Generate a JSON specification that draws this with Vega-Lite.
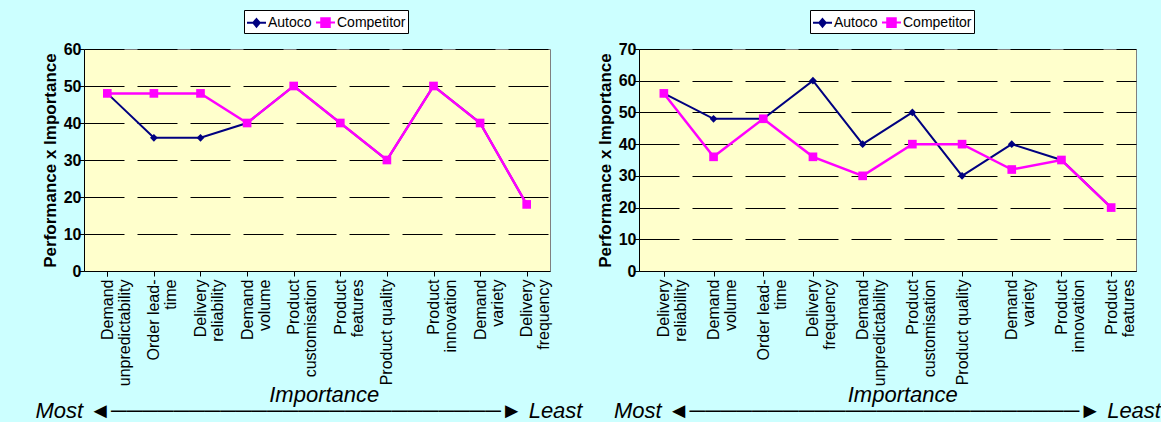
{
  "$schema": "https://vega.github.io/schema/vega-lite/v6.json",
  "background": "#CCFFFF",
  "padding": {"left": 34, "top": 9, "right": 0, "bottom": 0},
  "bounds": "flush",
  "spacing": 89,
  "resolve": {"scale": {"color": "independent"}, "legend": {"color": "independent"}},
  "config": {
    "font": "Liberation Sans",
    "view": {"fill": "#FFFFCC", "stroke": "#808080", "strokeWidth": 1},
    "axis": {"labelFont": "Liberation Sans", "titleFont": "Liberation Sans", "labelColor": "black", "titleColor": "black", "domainColor": "black", "tickColor": "black", "tickSize": 5, "domainWidth": 1, "tickWidth": 1},
    "axisY": {"labelFontSize": 16, "labelFontWeight": "bold", "labelPadding": -2, "titleFontSize": 17, "titleFontWeight": "bold", "titlePadding": 4, "grid": true, "gridColor": "black", "gridDash": [40, 13], "gridWidth": 1},
    "axisX": {"tickBand": "extent", "labelAngle": -90, "labelFontSize": 16, "labelLineHeight": 17, "labelPadding": 3, "labelLimit": 0, "grid": false, "titleFontSize": 22, "titleFontStyle": "italic", "titleFontWeight": "normal", "titleLineHeight": 16, "titleBaseline": "alphabetic", "titleAlign": "center", "titleY": 130},
    "legend": {"labelFont": "Liberation Sans", "labelFontSize": 14, "labelColor": "black", "strokeColor": "black", "fillColor": "white", "padding": 2, "symbolSize": 361, "columnPadding": 0, "labelOffset": 1}
  },
  "hconcat": [
    {
      "width": 466,
      "height": 222,
      "data": {"values": [
        {"cat": "Demand|unpredictability", "series": "Autoco", "value": 48},
        {"cat": "Demand|unpredictability", "series": "Competitor", "value": 48},
        {"cat": "Order lead-|time", "series": "Autoco", "value": 36},
        {"cat": "Order lead-|time", "series": "Competitor", "value": 48},
        {"cat": "Delivery|reliability", "series": "Autoco", "value": 36},
        {"cat": "Delivery|reliability", "series": "Competitor", "value": 48},
        {"cat": "Demand|volume", "series": "Autoco", "value": 40},
        {"cat": "Demand|volume", "series": "Competitor", "value": 40},
        {"cat": "Product|customisation", "series": "Autoco", "value": 50},
        {"cat": "Product|customisation", "series": "Competitor", "value": 50},
        {"cat": "Product|features", "series": "Autoco", "value": 40},
        {"cat": "Product|features", "series": "Competitor", "value": 40},
        {"cat": "Product quality", "series": "Autoco", "value": 30},
        {"cat": "Product quality", "series": "Competitor", "value": 30},
        {"cat": "Product|innovation", "series": "Autoco", "value": 50},
        {"cat": "Product|innovation", "series": "Competitor", "value": 50},
        {"cat": "Demand|variety", "series": "Autoco", "value": 40},
        {"cat": "Demand|variety", "series": "Competitor", "value": 40},
        {"cat": "Delivery|frequency", "series": "Autoco", "value": 18},
        {"cat": "Delivery|frequency", "series": "Competitor", "value": 18}
      ]},
      "encoding": {
        "x": {"field": "cat", "type": "nominal", "sort": ["Demand|unpredictability", "Order lead-|time", "Delivery|reliability", "Demand|volume", "Product|customisation", "Product|features", "Product quality", "Product|innovation", "Demand|variety", "Delivery|frequency"], "scale": {"paddingInner": 0, "paddingOuter": 0}, "axis": {"labelExpr": "split(datum.label, '|')", "title": ["\u200b\u00a0\u00a0\u00a0\u00a0\u00a0Importance", "Most \u25c4\u2500\u2500\u2500\u2500\u2500\u2500\u2500\u2500\u2500\u2500\u2500\u2500\u2500\u2500\u2500\u2500\u2500\u2500\u2500\u2500\u2500\u2500\u2500\u2500\u2500\u25ba Least"], "titleX": 224.5}},
        "y": {"field": "value", "type": "quantitative", "scale": {"domain": [0, 60], "nice": false}, "axis": {"values": [0, 10, 20, 30, 40, 50, 60], "title": "Performance x Importance"}},
        "color": {"field": "series", "type": "nominal", "scale": {"domain": ["Autoco", "Competitor"], "range": ["#000080", "#FF00FF"]},
          "legend": {"orient": "none", "legendX": 160, "legendY": -39, "direction": "horizontal", "title": null,
            "encode": {"symbols": {"update": {
              "shape": {"signal": "datum.value === 'Autoco' ? 'M-1,0H1M0,-0.4L0.34,0L0,0.4L-0.34,0Z' : 'M-1,0H1M-0.45,-0.45H0.45V0.45H-0.45Z'"},
              "strokeWidth": {"value": 2}, "opacity": {"value": 1}}}}}}
      },
      "layer": [
        {"transform": [{"filter": "datum.series === 'Autoco'"}], "mark": {"type": "line", "strokeWidth": 2}},
        {"transform": [{"filter": "datum.series === 'Autoco'"}], "mark": {"type": "point", "shape": "diamond", "size": 60, "filled": true, "opacity": 1}},
        {"transform": [{"filter": "datum.series === 'Competitor'"}], "mark": {"type": "line", "strokeWidth": 2.5}},
        {"transform": [{"filter": "datum.series === 'Competitor'"}], "mark": {"type": "point", "shape": "square", "size": 75, "filled": true, "opacity": 1}}
      ]
    },
    {
      "width": 497,
      "height": 222,
      "data": {"values": [
        {"cat": "Delivery|reliability", "series": "Autoco", "value": 56},
        {"cat": "Delivery|reliability", "series": "Competitor", "value": 56},
        {"cat": "Demand|volume", "series": "Autoco", "value": 48},
        {"cat": "Demand|volume", "series": "Competitor", "value": 36},
        {"cat": "Order lead-|time", "series": "Autoco", "value": 48},
        {"cat": "Order lead-|time", "series": "Competitor", "value": 48},
        {"cat": "Delivery|frequency", "series": "Autoco", "value": 60},
        {"cat": "Delivery|frequency", "series": "Competitor", "value": 36},
        {"cat": "Demand|unpredictability", "series": "Autoco", "value": 40},
        {"cat": "Demand|unpredictability", "series": "Competitor", "value": 30},
        {"cat": "Product|customisation", "series": "Autoco", "value": 50},
        {"cat": "Product|customisation", "series": "Competitor", "value": 40},
        {"cat": "Product quality", "series": "Autoco", "value": 30},
        {"cat": "Product quality", "series": "Competitor", "value": 40},
        {"cat": "Demand|variety", "series": "Autoco", "value": 40},
        {"cat": "Demand|variety", "series": "Competitor", "value": 32},
        {"cat": "Product|innovation", "series": "Autoco", "value": 35},
        {"cat": "Product|innovation", "series": "Competitor", "value": 35},
        {"cat": "Product|features", "series": "Autoco", "value": 20},
        {"cat": "Product|features", "series": "Competitor", "value": 20}
      ]},
      "encoding": {
        "x": {"field": "cat", "type": "nominal", "sort": ["Delivery|reliability", "Demand|volume", "Order lead-|time", "Delivery|frequency", "Demand|unpredictability", "Product|customisation", "Product quality", "Demand|variety", "Product|innovation", "Product|features"], "scale": {"paddingInner": 0, "paddingOuter": 0}, "axis": {"labelExpr": "split(datum.label, '|')", "title": ["\u200b\u00a0\u00a0\u00a0\u00a0\u00a0Importance", "Most \u25c4\u2500\u2500\u2500\u2500\u2500\u2500\u2500\u2500\u2500\u2500\u2500\u2500\u2500\u2500\u2500\u2500\u2500\u2500\u2500\u2500\u2500\u2500\u2500\u2500\u2500\u25ba Least"], "titleX": 248}},
        "y": {"field": "value", "type": "quantitative", "scale": {"domain": [0, 70], "nice": false}, "axis": {"values": [0, 10, 20, 30, 40, 50, 60, 70], "title": "Performance x Importance"}},
        "color": {"field": "series", "type": "nominal", "scale": {"domain": ["Autoco", "Competitor"], "range": ["#000080", "#FF00FF"]},
          "legend": {"orient": "none", "legendX": 171, "legendY": -39, "direction": "horizontal", "title": null,
            "encode": {"symbols": {"update": {
              "shape": {"signal": "datum.value === 'Autoco' ? 'M-1,0H1M0,-0.4L0.34,0L0,0.4L-0.34,0Z' : 'M-1,0H1M-0.45,-0.45H0.45V0.45H-0.45Z'"},
              "strokeWidth": {"value": 2}, "opacity": {"value": 1}}}}}}
      },
      "layer": [
        {"transform": [{"filter": "datum.series === 'Autoco'"}], "mark": {"type": "line", "strokeWidth": 2}},
        {"transform": [{"filter": "datum.series === 'Autoco'"}], "mark": {"type": "point", "shape": "diamond", "size": 60, "filled": true, "opacity": 1}},
        {"transform": [{"filter": "datum.series === 'Competitor'"}], "mark": {"type": "line", "strokeWidth": 2.5}},
        {"transform": [{"filter": "datum.series === 'Competitor'"}], "mark": {"type": "point", "shape": "square", "size": 75, "filled": true, "opacity": 1}}
      ]
    }
  ]
}
